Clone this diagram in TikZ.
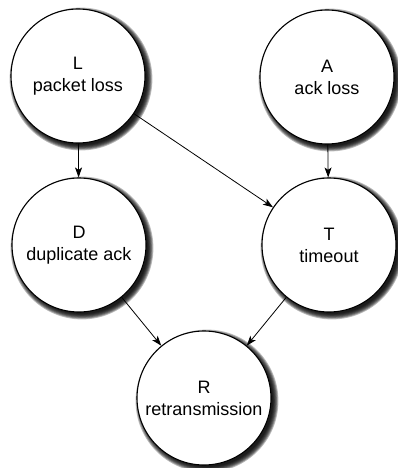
\documentclass[tikz,border=0pt]{standalone}
\usepackage{fontspec}
\setmainfont{Liberation Sans}
\usetikzlibrary{arrows.meta}

\tikzset{
  event/.style={circle, draw, fill=white, line width=1.1pt, minimum size=134pt,
    inner sep=0pt, align=center, font=\fontsize{18}{22}\selectfont},
  cause/.style={line width=0.8pt, -{Stealth[length=10pt,width=7pt,inset=2.5pt]}}
}

\begin{document}
\begin{tikzpicture}[x=1pt,y=-1pt]
                    \useasboundingbox (0,0) rectangle (398,468);%

                    % Drawing the shadows
                    \foreach \cx/\cy in {78/76, 327/77, 79/245, 329/245, 204/398}
                      \foreach \k in {0,...,6}
                        \fill [black, opacity=0.27] (\cx+3,\cy+3) circle ({66+\k*0.9});%

                    % Drawing the events
                    \node [event] (L) at (78,76) { L\\packet loss };%
                    \node [event] (A) at (327,77) { A\\ack loss };%
                    \node [event] (D) at (79,245) { D\\duplicate ack };%
                    \node [event] (T) at (329,245) { T\\timeout };%
                    \node [event] (R) at (204,398) { R\\retransmission };%

                    % Drawing the causes
                    \draw [cause] (L) -- (D);%
                    \draw [cause] (L) -- (T);%
                    \draw [cause] (A) -- (T);%
                    \draw [cause] (D) -- (R);%
                    \draw [cause] (T) -- (R);%
\end{tikzpicture}
\end{document}
